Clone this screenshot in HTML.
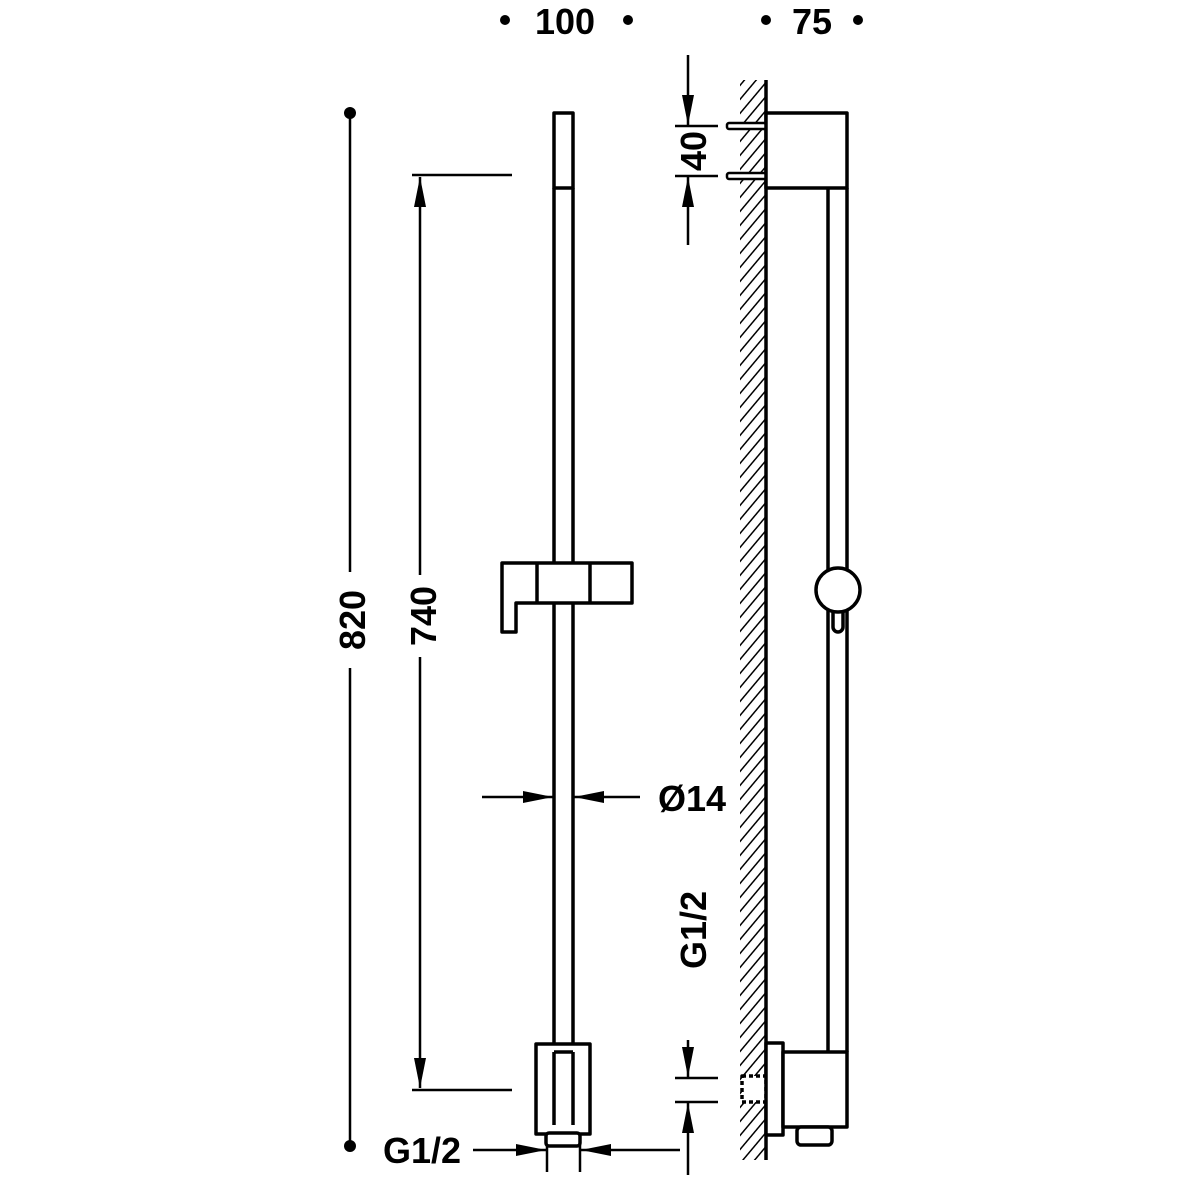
<!DOCTYPE html>
<html><head><meta charset="utf-8"><style>body{margin:0;background:#fff}svg{display:block}</style></head><body>
<svg width="1200" height="1200" viewBox="0 0 1200 1200" xmlns="http://www.w3.org/2000/svg">
<defs>
<pattern id="h" width="9" height="9" patternUnits="userSpaceOnUse" patternTransform="rotate(40)">
<line x1="0" y1="0" x2="0" y2="9" stroke="#000" stroke-width="3"/></pattern>
<marker id="a" viewBox="0 0 30 12" refX="30" refY="6" markerWidth="30" markerHeight="12" markerUnits="userSpaceOnUse" orient="auto"><path d="M0,0L30,6L0,12z"/></marker>
</defs>
<g font-family="Liberation Sans, sans-serif" font-weight="bold" font-size="36" fill="#000">
<text x="565" y="34" text-anchor="middle">100</text>
<text x="812" y="34" text-anchor="middle">75</text>
<text x="422" y="1163" text-anchor="middle">G1/2</text>
<text x="692" y="811" text-anchor="middle">Ø14</text>
<text transform="translate(365,620) rotate(-90)" text-anchor="middle">820</text>
<text transform="translate(436,616) rotate(-90)" text-anchor="middle">740</text>
<text transform="translate(706,151) rotate(-90)" text-anchor="middle">40</text>
<text transform="translate(706,930) rotate(-90)" text-anchor="middle">G1/2</text>
</g>
<g fill="#000">
<circle cx="505" cy="20" r="5"/><circle cx="628" cy="20" r="5"/>
<circle cx="766" cy="20" r="5"/><circle cx="858" cy="20" r="5"/>
<circle cx="350" cy="113" r="6"/><circle cx="350" cy="1146" r="6"/>
</g>
<g stroke="#000" stroke-width="2.5" fill="none">
<line x1="350" y1="113" x2="350" y2="572"/><line x1="350" y1="668" x2="350" y2="1146"/>
<line x1="420" y1="575" x2="420" y2="177" marker-end="url(#a)"/>
<line x1="420" y1="657" x2="420" y2="1088" marker-end="url(#a)"/>
<line x1="412" y1="175" x2="512" y2="175"/><line x1="412" y1="1090" x2="512" y2="1090"/>
<line x1="482" y1="797" x2="553" y2="797" marker-end="url(#a)"/>
<line x1="640" y1="797" x2="574" y2="797" marker-end="url(#a)"/>
<line x1="473" y1="1150" x2="546" y2="1150" marker-end="url(#a)"/>
<line x1="680" y1="1150" x2="581" y2="1150" marker-end="url(#a)"/>
<line x1="547" y1="1128" x2="547" y2="1172"/><line x1="580" y1="1128" x2="580" y2="1172"/>
<line x1="688" y1="55" x2="688" y2="125" marker-end="url(#a)"/>
<line x1="688" y1="245" x2="688" y2="177" marker-end="url(#a)"/>
<line x1="675" y1="126" x2="718" y2="126"/><line x1="675" y1="176" x2="718" y2="176"/>
<line x1="688" y1="1040" x2="688" y2="1077" marker-end="url(#a)"/>
<line x1="688" y1="1175" x2="688" y2="1103" marker-end="url(#a)"/>
<line x1="675" y1="1078" x2="718" y2="1078"/><line x1="675" y1="1102" x2="718" y2="1102"/>
</g>
<g stroke="#000" stroke-width="3.5" fill="#fff" stroke-linejoin="round">
<rect x="554" y="113" width="19" height="75"/>
<line x1="554" y1="188" x2="554" y2="1045"/><line x1="573" y1="188" x2="573" y2="1045"/>
<path d="M502,563H632V603H516V632H502Z"/>
<line x1="537" y1="563" x2="537" y2="603"/><line x1="590" y1="563" x2="590" y2="603"/>
<rect x="536" y="1044" width="54" height="90"/>
<line x1="554" y1="1052" x2="554" y2="1125"/><line x1="573" y1="1052" x2="573" y2="1125"/>
<line x1="554" y1="1052" x2="573" y2="1052"/>
<rect x="546" y="1133" width="34" height="13" rx="3"/>
<rect x="740" y="80" width="26" height="1080" fill="url(#h)" stroke="none"/>
<line x1="766" y1="80" x2="766" y2="1160"/>
<rect x="727" y="123" width="39" height="6" rx="2" stroke-width="2.5"/>
<rect x="727" y="173" width="39" height="6" rx="2" stroke-width="2.5"/>
<rect x="766" y="113" width="81" height="75"/>
<line x1="828" y1="188" x2="828" y2="1052"/><line x1="847" y1="188" x2="847" y2="1052"/>
<rect x="833" y="600" width="10" height="32" rx="5"/>
<circle cx="838" cy="590" r="22"/>
<rect x="742" y="1076" width="24" height="26" stroke-dasharray="4 3"/>
<rect x="766" y="1043" width="17" height="92"/>
<rect x="783" y="1052" width="64" height="75"/>
<rect x="797" y="1127" width="35" height="18" rx="4"/>
</g>
</svg>
</body></html>
